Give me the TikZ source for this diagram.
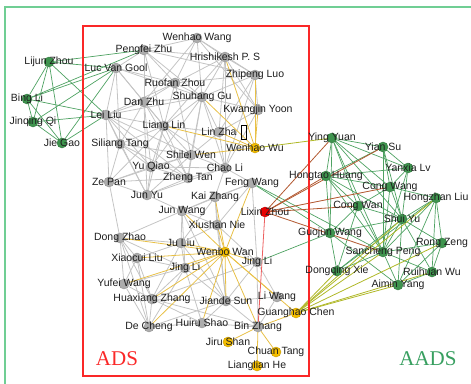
\documentclass[tikz,border=0pt]{standalone}
\usepackage{fontspec}
\setmainfont{Liberation Sans}
\newfontfamily\titlefont{Liberation Serif}
\usetikzlibrary{backgrounds}

\definecolor{adsgray}{RGB}{172,172,172}
\definecolor{aadsgreen}{RGB}{62,148,78}
\definecolor{hubyellow}{RGB}{245,190,0}
\definecolor{hubred}{RGB}{232,0,0}
\definecolor{edgegray}{RGB}{196,196,196}
\definecolor{edgegreen}{RGB}{78,162,98}
\definecolor{edgeyellow}{RGB}{232,192,70}
\definecolor{edgebrown}{RGB}{178,88,48}
\definecolor{edgeolive}{RGB}{176,184,40}
\definecolor{edgered}{RGB}{236,96,96}
\definecolor{framegreen}{RGB}{112,206,148}
\definecolor{framered}{RGB}{250,40,40}
\definecolor{labeltext}{RGB}{30,30,30}

\begin{document}
\begin{tikzpicture}[
  x=1pt, y=-1pt,
  vertex/.style={circle, inner sep=0pt, minimum size=10pt, line width=0.4pt},
  grayv/.style={vertex, fill=adsgray, draw=adsgray!85!black},
  greenv/.style={vertex, fill=aadsgreen, draw=aadsgreen!80!black},
  yellowv/.style={vertex, fill=hubyellow, draw=hubyellow!80!black},
  redv/.style={vertex, fill=hubred, draw=hubred!80!black},
  every label/.style={font=\fontsize{10.5}{12}\selectfont, text=labeltext, inner sep=0pt},
  grayedge/.style={edgegray, line width=0.8pt},
  greenedge/.style={edgegreen, line width=0.7pt},
  yellowedge/.style={edgeyellow, line width=0.8pt},
  brownedge/.style={edgebrown, line width=0.8pt},
  oliveedge/.style={edgeolive, line width=0.8pt},
  rededge/.style={edgered, line width=0.8pt}
]
  \clip (0,0) rectangle (471,383);
  \useasboundingbox (0,0) rectangle (471,383);

  %% Frames
  \draw[framegreen, line width=1.8pt] (5,7) rectangle (490,400);
  \draw[framered, line width=1.1pt] (83,26) rectangle (309,376);
  \node[text=framered, font=\titlefont\fontsize{21}{24}\selectfont] (adstitle) at (117,359) {ADS};
  \node[text=aadsgreen!90!cyan, font=\titlefont\fontsize{21}{24}\selectfont] (aadstitle) at (428,359) {AADS};

  %% Vertices (left group)
  \node[greenv, label={center:Lijun Zhou}] (ljzhou) at (49,62) {};
  \node[greenv, label={center:Bing Li}] (bli) at (27,99) {};
  \node[greenv, label={center:Jinqing Qi}] (jqqi) at (33,122) {};
  \node[greenv, label={center:Jie Gao}] (jgao) at (62,143) {};

  %% Vertices (ADS)
  \node[grayv, label={center:Wenhao Wang}] (wwang) at (197,38) {};
  \node[grayv, label={center:Pengfei Zhu}] (pzhu) at (144,50) {};
  \node[grayv, label={center:Hrishikesh P. S}] (hps) at (225,57) {};
  \node[grayv, label={center:Luc Van Gool}] (lvg) at (116,68) {};
  \node[grayv, label={center:Zhipeng Luo}] (zluo) at (255,75) {};
  \node[grayv, label={center:Ruofan Zhou}] (rzhou) at (175,83) {};
  \node[grayv, label={center:Dan Zhu}] (dzhu) at (144,102) {};
  \node[grayv, label={center:Shuhang Gu}] (sgu) at (202,97) {};
  \node[grayv, label={center:Kwangjin Yoon}] (kyoon) at (258,110) {};
  \node[grayv, label={center:Lei Liu}] (lliu) at (106,115) {};
  \node[grayv, label={center:Liang Lin}] (llin) at (164,126) {};
  \node[grayv, label={center:Lin Zha}] (lzha) at (219,132) {};
  \node[draw, line width=0.6pt, minimum width=5pt, minimum height=14pt, inner sep=0pt] (tofu) at (244,132) {};
  \node[yellowv, label={center:Wenhao Wu}] (wwu) at (255,148) {};
  \node[grayv, label={center:Siliang Tang}] (stang) at (120,144) {};
  \node[grayv, label={center:Shilei Wen}] (swen) at (191,155) {};
  \node[grayv, label={center:Yu Qiao}] (yqiao) at (151,167) {};
  \node[grayv, label={center:Chao Li}] (cli) at (225,168) {};
  \node[grayv, label={center:Zheng Tan}] (ztan) at (188,178) {};
  \node[grayv, label={center:Ze Pan}] (zpan) at (109,182) {};
  \node[grayv, label={center:Feng Wang}] (fwang) at (252,183) {};
  \node[grayv, label={center:Jun Yu}] (jyu) at (147,195) {};
  \node[grayv, label={center:Kai Zhang}] (kzhang) at (215,197) {};
  \node[grayv, label={center:Jun Wang}] (jwang) at (182,211) {};
  \node[redv, label={center:Lixin Zhou}] (lxzhou) at (265,212) {};
  \node[grayv, label={center:Xiushan Nie}] (xnie) at (217,225) {};
  \node[grayv, label={center:Dong Zhao}] (dzhao) at (120,238) {};
  \node[grayv, label={center:Ju Liu}] (juliu) at (181,243) {};
  \node[yellowv, label={center:Wenbo Wan}] (wwan) at (225,252) {};
  \node[grayv, label={center:Xiaocui Liu}] (xliu) at (137,258) {};
  \node[grayv, label={center:Jing Li}] (jlia) at (185,268) {};
  \node[grayv, label={center:Jing Li}] (jlib) at (257,262) {};
  \node[grayv, label={center:Yufei Wang}] (ywang) at (124,284) {};
  \node[grayv, label={center:Huaxiang Zhang}] (hzhang) at (152,299) {};
  \node[grayv, label={center:Jiande Sun}] (jsun) at (226,301) {};
  \node[grayv, label={center:Li Wang}] (liwang) at (277,297) {};
  \node[yellowv, label={center:Guanghao Chen}] (ghchen) at (296,313) {};
  \node[grayv, label={center:Huiru Shao}] (hshao) at (202,323) {};
  \node[grayv, label={center:De Cheng}] (dcheng) at (149,327) {};
  \node[grayv, label={center:Bin Zhang}] (bzhang) at (258,327) {};
  \node[yellowv, label={center:Jiru Shan}] (jshan) at (228,342) {};
  \node[yellowv, label={center:Chuan Tang}] (ctang) at (276,352) {};
  \node[yellowv, label={center:Lianglian He}] (lhe) at (257,366) {};

  %% Vertices (AADS)
  \node[greenv, label={center:Ying Yuan}] (yyuan) at (332,138) {};
  \node[greenv, label={center:Yian Su}] (ysu) at (383,147) {};
  \node[greenv, label={center:Yanxia Lv}] (ylv) at (408,168) {};
  \node[greenv, label={center:Hongtao Huang}] (hhuang) at (326,176) {};
  \node[greenv, label={center:Cong Wang}] (cwang) at (390,187) {};
  \node[greenv, label={center:Hongzhan Liu}] (hliu) at (436,198) {};
  \node[greenv, label={center:Cong Wan}] (cwan) at (358,206) {};
  \node[greenv, label={center:Shui Yu}] (syu) at (402,219) {};
  \node[greenv, label={center:Guojun Wang}] (gwang) at (330,233) {};
  \node[greenv, label={center:Rong Zeng}] (rzeng) at (442,243) {};
  \node[greenv, label={center:Sancheng Peng}] (speng) at (383,252) {};
  \node[greenv, label={center:Ruihuan Wu}] (rwu) at (432,272) {};
  \node[greenv, label={center:Dongqing Xie}] (dxie) at (337,271) {};
  \node[greenv, label={center:Aimin Yang}] (ayang) at (398,285) {};

  %% Edges
  \begin{scope}[on background layer]
  \draw[grayedge] (wwang) edge (pzhu) edge (hps) edge (rzhou) edge (sgu) edge (zluo) edge (kyoon) edge (dzhu);
  \draw[grayedge] (pzhu) edge (lvg) edge (rzhou) edge (dzhu) edge (sgu) edge (llin) edge (hps) edge (zluo);
  \draw[grayedge] (lvg) edge (rzhou) edge (dzhu) edge (sgu) edge (lliu) edge (llin) edge (stang);
  \draw[grayedge] (hps) edge (zluo) edge (kyoon) edge (sgu) edge (rzhou) edge (lzha) edge (llin) edge (cli);
  \draw[grayedge] (zluo) edge (kyoon) edge (sgu) edge (rzhou) edge (lzha) edge (cli);
  \draw[grayedge] (sgu) edge (lzha) edge (llin) edge (kyoon) edge (dzhu) edge (rzhou) edge (swen) edge (cli) edge (yqiao) edge (lliu) edge (ztan);
  \draw[grayedge] (rzhou) edge (dzhu) edge (llin) edge (lliu) edge (swen);
  \draw[grayedge] (llin) edge (lzha) edge (lliu) edge (dzhu) edge (stang) edge (yqiao) edge (swen) edge (ztan) edge (zpan) edge (jyu) edge (cli);
  \draw[grayedge] (lzha) edge (cli) edge (swen) edge (kyoon);
  \draw[grayedge] (kyoon) edge (cli);
  \draw[grayedge] (lliu) edge (dzhu) edge (stang) edge (yqiao) edge (zpan) edge (jyu) edge (ztan) edge (swen);
  \draw[grayedge] (dzhu) edge (yqiao) edge (jyu) edge (stang) edge (ztan);
  \draw[grayedge] (stang) edge (yqiao) edge (zpan) edge (jyu) edge (swen) edge (ztan);
  \draw[grayedge] (swen) edge (yqiao) edge (cli) edge (ztan) edge (jyu) edge (zpan);
  \draw[grayedge] (yqiao) edge (zpan) edge (jyu) edge (ztan) edge (cli);
  \draw[grayedge] (cli) edge (ztan) edge (fwang) edge (kzhang) edge (jyu);
  \draw[grayedge] (ztan) edge (zpan) edge (jyu);
  \draw[grayedge] (zpan) edge (jyu) edge (dzhao);
  \draw[grayedge] (jyu) edge (jwang);
  \draw[grayedge] (fwang) edge (kzhang) edge (xnie) edge (jwang) edge (jlib);
  \draw[grayedge] (kzhang) edge (jwang) edge (xnie) edge (jsun) edge (juliu);
  \draw[grayedge] (jwang) edge (xnie) edge (juliu) edge (jlia) edge (jsun) edge (dzhao);
  \draw[grayedge] (xnie) edge (juliu) edge (jsun) edge (jlib);
  \draw[grayedge] (dzhao) edge (juliu) edge (xliu) edge (ywang) edge (hzhang) edge (jlia) edge (dcheng);
  \draw[grayedge] (juliu) edge (xliu) edge (jlia) edge (jsun) edge (hzhang);
  \draw[grayedge] (xliu) edge (jlia) edge (ywang) edge (hzhang) edge (dcheng);
  \draw[grayedge] (jlia) edge (hzhang) edge (jsun) edge (ywang) edge (dcheng) edge (hshao);
  \draw[grayedge] (jlib) edge (jsun) edge (liwang) edge (bzhang) edge (hzhang);
  \draw[grayedge] (ywang) edge (hzhang) edge (dcheng);
  \draw[grayedge] (hzhang) edge (jsun) edge (dcheng) edge (hshao) edge (bzhang);
  \draw[grayedge] (jsun) edge (liwang) edge (hshao) edge (bzhang) edge (dcheng);
  \draw[grayedge] (liwang) edge (bzhang);
  \draw[grayedge] (hshao) edge (bzhang) edge (dcheng);

  \draw[yellowedge] (wwan) edge (fwang) edge (kzhang) edge (xnie) edge (jwang) edge (juliu) edge (dzhao) edge (xliu) edge (jlia) edge (ywang) edge (hzhang) edge (dcheng) edge (hshao) edge (jsun) edge (bzhang) edge (liwang) edge (jlib) edge (ghchen);
  \draw[yellowedge] (wwu) edge (hps) edge (zluo) edge (sgu) edge (llin) edge (swen) edge (lzha) edge (kyoon);
  \draw[yellowedge] (bzhang) edge (jshan) edge (ctang) edge (lhe) edge (ghchen);

  \draw[greenedge] (ljzhou) edge (bli) edge (jqqi) edge (jgao) edge (pzhu) edge (lvg) edge (lliu);
  \draw[greenedge] (bli) edge (jqqi) edge (jgao) edge (lvg) edge (pzhu) edge (lliu);
  \draw[greenedge] (jqqi) edge (jgao) edge (lvg) edge (lliu);
  \draw[greenedge] (jgao) edge (lvg) edge (lliu);
  \draw[greenedge] (fwang) edge (gwang) edge (speng);
  \draw[greenedge] (jlib) edge (gwang);

  \draw[greenedge] (yyuan) edge (ysu) edge (hhuang) edge (cwang) edge (cwan) edge (syu) edge (speng) edge (ylv) edge (gwang);
  \draw[greenedge] (ysu) edge (ylv) edge (cwang) edge (hhuang) edge (syu) edge (speng);
  \draw[greenedge] (ylv) edge (cwang) edge (syu) edge (speng);
  \draw[greenedge] (hhuang) edge (cwang) edge (cwan) edge (syu) edge (gwang) edge (speng) edge (ylv);
  \draw[greenedge] (cwang) edge (cwan) edge (syu) edge (speng) edge (hliu);
  \draw[greenedge] (hliu) edge (syu) edge (rzeng) edge (rwu) edge (speng) edge (ayang) edge (dxie);
  \draw[greenedge] (cwan) edge (syu) edge (gwang) edge (speng) edge (dxie);
  \draw[greenedge] (syu) edge (rzeng) edge (rwu) edge (speng) edge (gwang) edge (ayang) edge (dxie);
  \draw[greenedge] (gwang) edge (dxie) edge (ayang);
  \draw[greenedge] (rzeng) edge (rwu) edge (speng) edge (ayang);
  \draw[greenedge] (speng) edge (rwu) edge (dxie) edge (ayang);
  \draw[greenedge] (rwu) edge (ayang);

  \draw[brownedge] (lxzhou) edge (yyuan) edge (ysu) edge (hhuang) edge (cwang) edge (cwan) edge (speng);
  \draw[oliveedge] (wwu) edge (yyuan);
  \draw[oliveedge] (ghchen) edge (dxie) edge (speng) edge (syu) edge (hliu) edge (rzeng) edge (ayang) edge (rwu);
  \draw[rededge] (lxzhou) edge (bzhang);
  \end{scope}
\end{tikzpicture}
\end{document}
